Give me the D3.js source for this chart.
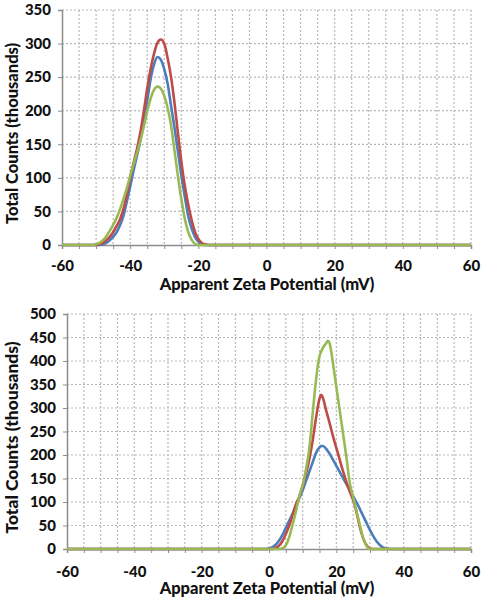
<!DOCTYPE html>
<html><head><meta charset="utf-8">
<script src="https://cdn.jsdelivr.net/npm/d3@7"></script>
<style>body{margin:0;background:#fff}svg{display:block}</style>
</head><body>
<script>
// ---------- DATA ----------
const xTicks = [-60, -40, -20, 0, 20, 40, 60];
const topYTicks = [0, 50, 100, 150, 200, 250, 300, 350];
const botYTicks = [0, 50, 100, 150, 200, 250, 300, 350, 400, 450, 500];
const xTitle = "Apparent Zeta Potential (mV)";
const yTitle = "Total Counts (thousands)";
const seriesNames = ["Blue", "Red", "Green"];
const seriesColors = ["#4a7ebb", "#be4b48", "#98b954"];

// Top chart (negative particles)
const topX     = [-60,-52,-51,-50,-49,-48,-47,-46,-45,-44,-43,-42,-41,-40,-39,-38,-37,-36,-35,-34,-33,-32,-31,-30,-29,-28,-27,-26,-25,-24,-23,-22,-21,-20,-19,-18,-17,-16,60];
const topBlue  = [0,  0,  0,  0,  0,  1,  3,  7, 12, 19, 29, 43, 64, 87,111,133,156,185,215,247,269,280,276,262,240,207,175,140,104, 73, 44, 25, 12,  5,  1,  0,  0,  0, 0];
const topRed   = [0,  0,  0,  0,  1,  3,  7, 12, 19, 28, 38, 53, 74,100,122,143,168,199,233,262,285,301,306,300,278,250,212,167,125, 89, 61, 38, 20,  9,  3,  1,  0,  0, 0];
const topGreen = [0,  0,  0,  1,  3,  7, 13, 21, 30, 40, 53, 68, 84,103,120,137,155,176,199,218,231,236,233,222,204,178,141,103, 69, 40, 20,  8,  2,  0,  0,  0,  0,  0, 0];

// Bottom chart (positive particles)
const botX     = [-60,-1, 0, 1, 2, 3, 4, 5, 6, 7, 8,  9, 10, 11, 12, 13, 14, 15,15.5, 16, 17,17.5, 18, 19, 20, 21, 22, 23, 24, 25, 26, 27, 28, 29, 30, 31, 32, 33, 34, 35, 36, 60];
const botBlue  = [0,   0, 1, 4, 9,18,30,45,60,75,92,108,125,145,165,185,205,216, 219,219,213, 208,203,190,177,164,151,138,125,112, 99, 85, 70, 55, 40, 27, 16,  8,  3,  1,  0,  0];
const botRed   = [0,   0, 0, 0, 2, 7,17,32,50,72,95,112,135,160,192,232,280,320, 328,322,294, 281,268,240,215,190,165,142,122,104, 78, 46, 22,  8,  1,  0,  0,  0,  0,  0,  0,  0];
const botGreen = [0,   0, 0, 0, 0, 0, 2, 8,25,52,80,112,135,170,215,290,362,410, 420,428,438, 443,438,395,345,295,245,195,140,110, 80, 50, 22,  6,  0,  0,  0,  0,  0,  0,  0,  0];

// ---------- DRAW ----------
const W = 482, H = 600;
const svg = d3.select("body").append("svg").attr("width", W).attr("height", H);
const FONT = "Lato, 'Open Sans', sans-serif";

function drawChart(cfg) {
  const g = svg.append("g");
  const x = d3.scaleLinear().domain([-60, 60]).range([cfg.left, cfg.right]);
  const y = d3.scaleLinear().domain([0, cfg.yMax]).range([cfg.bottom, cfg.top]);

  // grid - vertical every 5
  const minor = d3.range(-55, 61, 5);
  g.selectAll(".vg").data(minor).enter().append("line")
    .attr("x1", d => x(d)).attr("x2", d => x(d))
    .attr("y1", cfg.top).attr("y2", cfg.bottom)
    .attr("stroke", "#b8b8b8").attr("stroke-width", 1.2)
    .attr("stroke-dasharray", "2,2");
  g.selectAll(".hg").data(cfg.yTicks.filter(d => d > 0)).enter().append("line")
    .attr("x1", cfg.left).attr("x2", cfg.right)
    .attr("y1", d => y(d)).attr("y2", d => y(d))
    .attr("stroke", "#b8b8b8").attr("stroke-width", 1.2)
    .attr("stroke-dasharray", "2,2");

  // axes
  const xAxis = d3.axisBottom(x).tickValues(d3.range(-60, 61, 5)).tickSize(4)
    .tickFormat(d => xTicks.includes(d) ? d : "").tickPadding(cfg.xPad);
  const gx = g.append("g").attr("transform", `translate(0,${cfg.bottom})`).call(xAxis);
  const yAxis = d3.axisLeft(y).tickValues(cfg.yTicks).tickSize(4).tickPadding(7);
  const gy = g.append("g").attr("transform", `translate(${cfg.left},0)`).call(yAxis);
  [gx, gy].forEach(a => {
    a.select(".domain").attr("stroke", "#8c8c8c").attr("stroke-width", 1.5);
    a.selectAll(".tick line").attr("stroke", "#8c8c8c");
    a.selectAll("text").attr("font-family", FONT).attr("font-weight", 900)
      .attr("font-size", 15).attr("fill", "#111");
  });

  // lines
  const line = d3.line().x(d => x(d[0])).y(d => y(d[1])).curve(d3.curveMonotoneX);
  cfg.series.forEach((vals, i) => {
    g.append("path").datum(cfg.xs.map((v, j) => [v, vals[j]]))
      .attr("d", line).attr("fill", "none")
      .attr("stroke", seriesColors[i]).attr("stroke-width", 2.6)
      .attr("stroke-linejoin", "round");
  });

  // titles
  g.append("text").attr("x", 267).attr("y", cfg.bottom + 45)
    .attr("text-anchor", "middle").attr("font-family", FONT).attr("font-weight", 900)
    .attr("font-size", 16.5).attr("fill", "#111").text(xTitle);
  g.append("text").attr("transform", `translate(18,${(cfg.top + cfg.bottom) / 2 + 6}) rotate(-90)`)
    .attr("text-anchor", "middle").attr("font-family", FONT).attr("font-weight", 900)
    .attr("font-size", cfg.yTitleSize).attr("fill", "#111").text(yTitle);
}

drawChart({left: 62, right: 471, top: 10, bottom: 245, yMax: 350, yTicks: topYTicks, xPad: 11, yTitleSize: 16.5,
  xs: topX, series: [topBlue, topRed, topGreen]});
drawChart({left: 67, right: 471, top: 314, bottom: 549, yMax: 500, yTicks: botYTicks, xPad: 13, yTitleSize: 17.5,
  xs: botX, series: [botBlue, botRed, botGreen]});
</script>
</body></html>
